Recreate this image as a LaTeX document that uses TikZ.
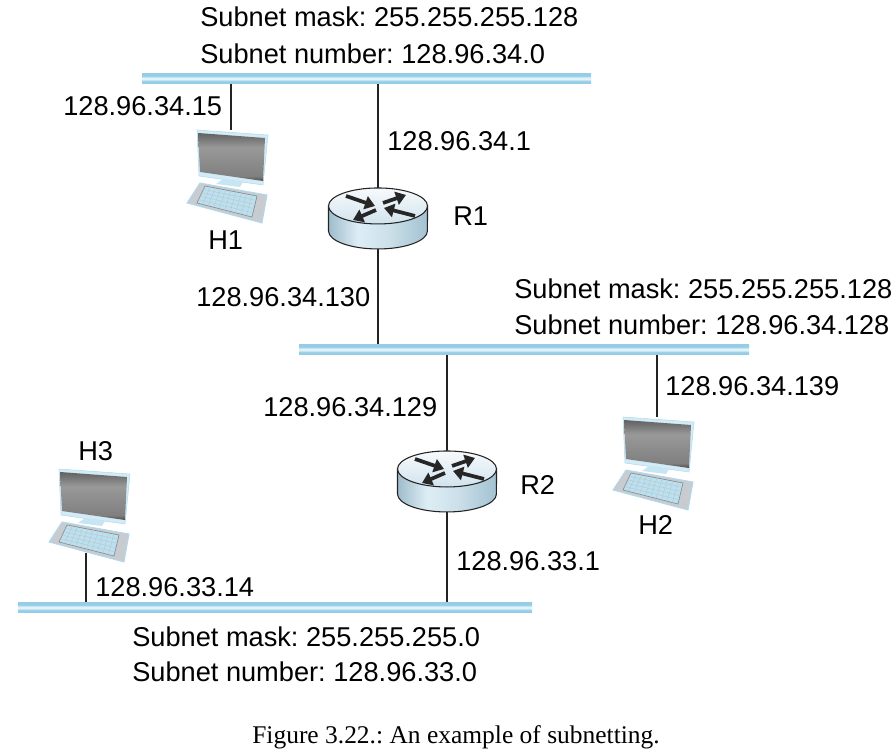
\documentclass[tikz,border=0pt]{standalone}
\usepackage{fontspec}
\setmainfont{Liberation Sans}
\newfontfamily\captionserif{Liberation Serif}
\usetikzlibrary{shapes,arrows.meta,calc}
\frenchspacing

\definecolor{barblue}{RGB}{150,205,230}
\definecolor{barpale}{RGB}{225,242,248}
\definecolor{wire}{RGB}{35,35,35}
\definecolor{rimblue}{RGB}{175,218,238}
\definecolor{keyblue}{RGB}{185,225,242}
\definecolor{silver}{RGB}{200,204,208}

\pgfdeclareverticalshading{barshade}{100bp}{color(0bp)=(barblue); color(25bp)=(barblue); color(36bp)=(barblue); color(46bp)=(barpale); color(54bp)=(barpale); color(64bp)=(barblue); color(100bp)=(barblue)}
\pgfdeclarehorizontalshading{bodyshade}{100bp}{rgb(0bp)=(.62,.74,.80); rgb(25bp)=(.62,.74,.80); rgb(40bp)=(.87,.93,.96); rgb(55bp)=(.80,.88,.92); rgb(75bp)=(.64,.76,.82); rgb(100bp)=(.64,.76,.82)}
\pgfdeclareverticalshading{topshade}{100bp}{rgb(0bp)=(.82,.89,.93); rgb(25bp)=(.82,.89,.93); rgb(75bp)=(.97,.98,.99); rgb(100bp)=(.97,.98,.99)}
\pgfdeclareverticalshading{screenshade}{100bp}{rgb(0bp)=(.30,.30,.30); rgb(25bp)=(.30,.30,.30); rgb(30bp)=(.50,.50,.50); rgb(60bp)=(.60,.60,.60); rgb(75bp)=(.38,.38,.38); rgb(100bp)=(.38,.38,.38)}

% router picture, drawn around its node
\newcommand{\routerpic}[1]{
	\begin{scope}[shift={(#1)},yshift=9.4pt]
		\draw[wire,line width=.8pt,shade,shading=bodyshade] (-49.5,0) -- (-49.5,25)
			arc[start angle=180,end angle=360,x radius=37.1pt,y radius=13.5pt] -- (49.5,0) -- cycle;
		\draw[wire,line width=.8pt,shade,shading=topshade] (0,0) ellipse[x radius=49.5,y radius=18];
		\draw[routerarrow] (-32,-10) -- (-3,0);
		\draw[routerarrow] (-2,4) -- (-25,14);
		\draw[routerarrow] (5,-3) -- (28,-11);
		\draw[routerarrow] (37,10) -- (6,2);
	\end{scope}
}

% laptop picture, drawn around its node
\newcommand{\laptoppic}[1]{
	\begin{scope}[shift={(#1)}]
		\filldraw[fill=rimblue!55,draw=rimblue] (-34,-47) -- (37,-42) -- (32,8) -- (-32,-1) -- cycle;
		\fill[rimblue!70] (-8,2) -- (12,5) -- (9,10) -- (-15,7) -- cycle;
		\shade[shading=screenshade] (-33,-44) -- (34,-39) -- (32,4) -- (-31,-5) -- cycle;
		\filldraw[fill=silver,draw=rimblue,line width=.7pt] (-31,6) -- (36,18) -- (31,46) -- (-44,26) -- cycle;
		\filldraw[fill=keyblue,draw=black!45,line width=.5pt] (-26,9) -- (26,19) -- (21,40) -- (-34,26) -- cycle;
		\foreach \t in {.2,.4,.6,.8}
			\draw[black!25,line width=.25pt] ($(-26,9)!\t!(-34,26)$) -- ($(26,19)!\t!(21,40)$);
		\foreach \t in {.1,.2,...,.9}
			\draw[black!25,line width=.25pt] ($(-26,9)!\t!(26,19)$) -- ($(-34,26)!\t!(21,40)$);
	\end{scope}
}

\begin{document}
\begin{tikzpicture}[x=0.75pt,y=-0.75pt]
	\tikzstyle{txt}=[anchor=base west,inner sep=0pt,xshift=-0.75pt,font=\fontsize{20.4}{24}\selectfont]
	\tikzstyle{subnet}=[rectangle,shade,shading=barshade,minimum height=7.2pt,inner sep=0pt]
	\tikzstyle{router}=[rectangle,minimum width=74.25pt,minimum height=45.75pt,inner sep=0pt]
	\tikzstyle{laptop}=[rectangle,minimum width=66pt,minimum height=70.5pt,inner sep=0pt]
	\tikzstyle{suite}=[wire,line width=1.1pt]
	\tikzstyle{routerarrow}=[black!85,line width=2.8pt,-{Triangle[length=7.5pt,width=10pt]}]

	\useasboundingbox (0,0) rectangle (895,752);

	\node[subnet,minimum width=336.75pt] (net1) at (366.5,78.5) {};
	\node[subnet,minimum width=337.5pt] (net2) at (524,349.5) {};
	\node[subnet,minimum width=385.5pt] (net3) at (275,607.5) {};

	\node[router] (r1) at (378,218.5) {};
	\node[router] (r2) at (447,481.5) {};
	\node[laptop] (h1) at (231,177) {};
	\node[laptop] (h2) at (657,464) {};
	\node[laptop] (h3) at (93,516) {};
	\coordinate (h3port) at (86,553);

	\draw[suite] (h1.north) -- (h1.north |- net1.south);
	\draw[suite] (r1.north) -- (r1.north |- net1.south);
	\draw[suite] (r1.south) -- (r1.south |- net2.north);
	\draw[suite] (r2.north) -- (r2.north |- net2.south);
	\draw[suite] (h2.north) -- (h2.north |- net2.south);
	\draw[suite] (r2.south) -- (r2.south |- net3.north);
	\draw[suite] (h3port) -- (h3port |- net3.north);

	\routerpic{r1.center}
	\routerpic{r2.center}
	\laptoppic{h1.center}
	\laptoppic{h2.center}
	\laptoppic{h3.center}

	\node[txt] (mask1) at (201,27) {Subnet mask: 255.255.255.128};
	\node[txt] (num1) at (201,64) {Subnet number: 128.96.34.0};
	\node[txt] (ip15) at (64,116) {128.96.34.15};
	\node[txt] (ip1) at (388,151) {128.96.34.1};
	\node[txt] (lh1) at (209,249) {H1};
	\node[txt] (lr1) at (454,226) {R1};
	\node[txt] (ip130) at (197,306) {128.96.34.130};
	\node[txt] (mask2) at (515,298) {Subnet mask: 255.255.255.128};
	\node[txt] (num2) at (515,334) {Subnet number: 128.96.34.128};
	\node[txt] (ip139) at (666,395) {128.96.34.139};
	\node[txt] (ip129) at (264,416) {128.96.34.129};
	\node[txt] (lh3) at (79,460) {H3};
	\node[txt] (lr2) at (521,494) {R2};
	\node[txt] (lh2) at (639,534) {H2};
	\node[txt] (ip331) at (457,570) {128.96.33.1};
	\node[txt] (ip3314) at (96,596) {128.96.33.14};
	\node[txt] (mask3) at (133,646) {Subnet mask: 255.255.255.0};
	\node[txt] (num3) at (133,681) {Subnet number: 128.96.33.0};
	\node[anchor=base,inner sep=0pt,font=\captionserif\fontsize{19.1}{22}\selectfont] (caption) at (456,743) {Figure 3.22.: An example of subnetting.};
\end{tikzpicture}
\end{document}
